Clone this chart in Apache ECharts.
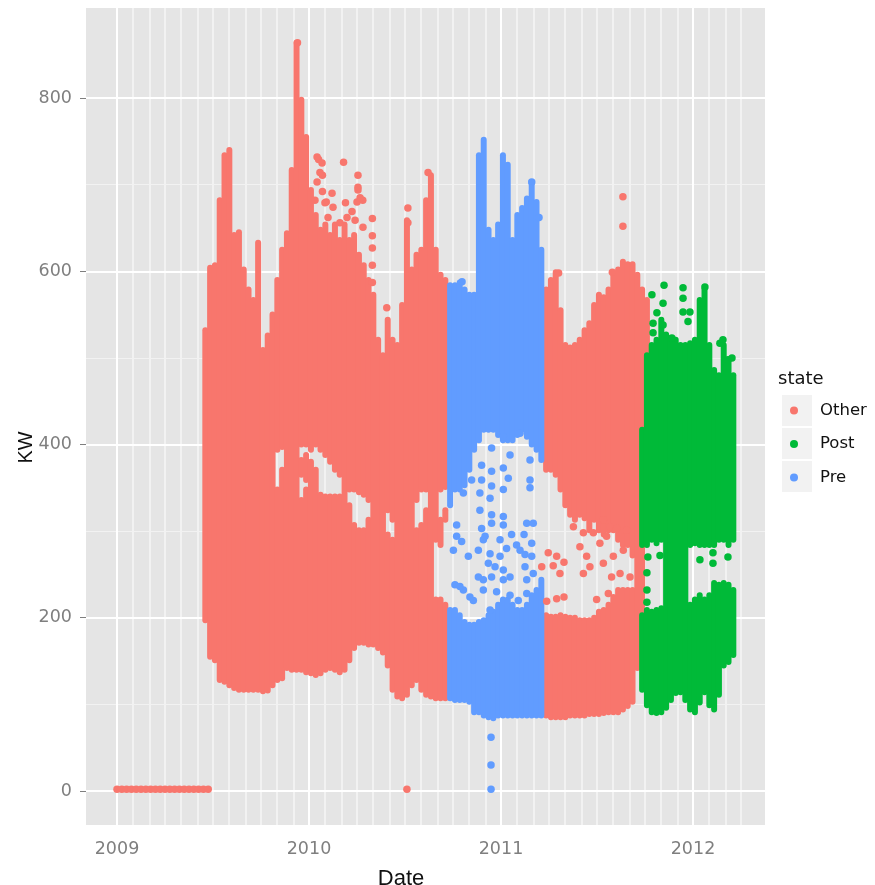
<!DOCTYPE html>
<html>
<head>
<meta charset="utf-8">
<style>html,body{margin:0;padding:0;background:#fff}#c{width:875px;height:885px}</style>
<script src="https://cdn.jsdelivr.net/npm/echarts@6/dist/echarts.min.js"></script>
</head>
<body>
<div id="c"></div>
<script>
// Each row: date, then pairs of KW low/high for the solid parts of that column of dots
const otherBands = [
[2009.46,197,532],[2009.485,155,604],[2009.51,151,607],[2009.535,128,682],[2009.56,126,734],
[2009.585,122,740],[2009.61,119,642],[2009.635,117,645],[2009.66,117,602],[2009.685,117,579],
[2009.71,117,567],[2009.735,117,633],[2009.76,115,509],[2009.785,116,526],[2009.81,122,550],
[2009.835,128,348,394,590],[2009.86,130,371,397,625],[2009.885,142,644],[2009.91,140,717],[2009.935,140,864],
[2009.96,140,336,365,382,400,798],[2009.985,137,348,359,388,400,755],[2010.01,136,380,394,694],
[2010.035,134,371,400,665],[2010.06,136,342,394,648],[2010.085,140,340,388,654],[2010.11,142,340,380,642],
[2010.135,140,340,371,654],[2010.16,137,340,365,636],[2010.185,140,654],[2010.21,151,330,348,636],
[2010.235,165,307,348,642],[2010.26,171,301,345,619],[2010.285,171,301,342,607],[2010.31,169,313,336,590],
[2010.335,169,573],[2010.36,165,521],[2010.385,160,503],[2010.41,145,296,324,544],[2010.435,117,290,313,521],
[2010.46,109,515],[2010.485,107,561],[2010.51,111,659],[2010.535,122,602],[2010.56,128,301,336,619],
[2010.585,117,307,348,625],[2010.61,111,324,348,682],[2010.635,109,711],[2010.66,107,221,290,625],
[2010.685,107,221,284,313,348,596],[2010.71,107,215,313,324,351,590],
[2011.235,87,203,371,579],[2011.26,85,201,371,590],[2011.285,85,201,365,599],[2011.31,85,203,348,555],
[2011.335,85,201,330,515],[2011.36,87,200,319,512],[2011.385,87,200,313,515],[2011.41,87,197,319,521],
[2011.435,87,197,315,532],[2011.46,89,197,301,540],[2011.485,89,200,313,561],[2011.51,89,207,301,573],
[2011.535,90,209,296,570],[2011.56,91,215,301,579],[2011.585,91,224,301,596],[2011.61,91,232,290,602],
[2011.635,94,232,284,611],[2011.66,98,232,284,608],[2011.685,103,232,272,608],[2011.71,142,596],
[2011.735,142,579],[2011.76,417,567]
];
const preBands = [
[2010.735,107,209,330,584],[2010.76,105,209,348,584],[2010.785,105,203,348,587],[2010.81,105,195,353,579],
[2010.835,103,192,371,573],[2010.86,91,192,394,573],[2010.885,91,195,405,734],[2010.91,87,197,417,752],
[2010.935,85,203,417,648],[2010.96,84,207,417,636],[2010.985,87,215,411,654],[2011.01,87,221,405,734],
[2011.035,87,221,405,723],[2011.06,87,215,405,636],[2011.085,87,209,411,665],[2011.11,87,209,417,673],
[2011.135,87,215,409,684],[2011.16,87,226,400,703],[2011.185,87,232,394,680],[2011.21,87,244,382,625]
];
const postBands = [
[2011.735,117,203,284,417],[2011.76,99,209,284,503],[2011.785,91,207,290,515],[2011.81,90,209,286,521],
[2011.835,91,211,290,544],[2011.86,96,527],[2011.885,105,523],[2011.91,113,521],[2011.935,114,515],
[2011.96,105,515],[2011.985,94,215,284,517],[2012.01,91,221,286,521],[2012.035,102,226,284,567],
[2012.06,114,221,284,579],[2012.085,99,226,284,515],[2012.11,94,240,284,486],[2012.135,111,238,290,480],
[2012.16,145,240,290,515],[2012.185,149,238,284,498],[2012.21,157,232,290,480]
];
// Individually visible dots: [date, KW]
const otherPoints = [
[2009.0,2],[2009.025,2],[2009.05,2],[2009.075,2],[2009.1,2],[2009.125,2],[2009.15,2],[2009.175,2],[2009.2,2],[2009.225,2],
[2009.25,2],[2009.275,2],[2009.3,2],[2009.325,2],[2009.35,2],[2009.375,2],[2009.4,2],[2009.425,2],[2009.45,2],[2009.475,2],
[2010.51,2],[2009.94,864],[2010.18,726],[2010.05,729],[2010.07,711],[2010.255,711],[2010.255,694],[2010.33,661],[2010.33,641],
[2010.33,627],[2010.33,607],[2010.33,587],[2010.515,673],[2010.515,656],[2010.405,558],[2010.62,714],[2011.635,686],[2011.635,652],
[2011.58,599],[2011.3,598],[2010.07,692],[2010.12,690],[2010.19,679],[2010.09,680],[2010.25,680],[2010.28,682],
[2010.042,732],[2010.068,725],[2010.057,714],[2010.042,703],[2010.083,679],[2010.125,674],[2010.198,662],[2010.161,656],
[2010.24,659],[2010.281,651],[2010.266,685],[2010.255,697],[2010.224,669],[2010.099,662],[2010.031,682],
[2011.246,275],[2011.29,271],[2011.328,264],[2011.212,259],[2011.272,260],[2011.307,251],[2011.429,251],[2011.377,305],
[2011.238,219],[2011.29,222],[2011.328,224],[2011.498,221],[2011.411,282],[2011.446,271],[2011.481,298],[2011.515,286],
[2011.55,294],[2011.429,298],[2011.533,313],[2011.568,305],[2011.602,303],[2011.654,301],[2011.463,259],[2011.533,263],
[2011.585,271],[2011.62,251],[2011.559,228],[2011.576,247],[2011.637,278],[2011.672,247]
];
const prePoints = [
[2010.948,62],[2010.948,30],[2010.948,2],[2011.16,703],[2011.198,662],[2010.797,588],
[2010.951,396],[2010.951,369],[2011.012,409],[2011.012,373],[2011.047,388],[2011.099,413],[2011.151,382],[2010.899,376],
[2010.899,359],[2010.847,359],[2010.951,352],[2011.012,348],[2011.038,361],[2011.151,359],[2011.151,350],[2010.804,344],
[2010.89,344],[2010.943,338],[2010.89,324],[2010.951,319],[2011.012,317],[2011.012,307],[2010.951,309],[2011.134,309],
[2011.168,309],[2010.769,307],[2010.769,294],[2010.899,303],[2010.908,290],[2010.882,278],[2010.83,271],[2010.752,278],
[2011.055,296],[2011.12,296],[2011.16,286],[2010.995,290],[2011.029,280],[2011.081,284],[2011.125,273],[2010.995,271],
[2011.16,271],[2010.934,263],[2011.012,255],[2011.168,251],[2011.134,244],[2010.76,238],[2010.804,232],[2010.838,224],
[2010.951,247],[2010.977,230],[2011.047,226],[2010.943,209],[2011.09,220],[2011.134,228],[2010.917,294],[2010.943,274],
[2010.969,259],[2011.012,244],[2011.047,247],[2011.099,278],[2011.125,259],[2010.908,244],[2010.882,247],[2010.908,232],
[2010.795,288],[2010.786,236],[2010.856,220]
];
const postPoints = [
[2011.786,573],[2011.849,584],[2011.948,581],[2011.948,569],[2012.062,582],[2012.047,563],[2011.844,563],[2011.812,552],
[2011.948,553],[2011.984,553],[2011.974,542],[2011.844,538],[2011.792,540],[2011.792,529],[2011.89,523],[2012.14,517],
[2012.156,521],[2012.182,498],[2012.203,500],[2012.036,267],[2012.104,275],[2012.104,263],[2012.182,270],[2011.765,270],
[2011.76,252],[2011.76,232],[2011.76,218],[2011.828,272]
];
const xTickLabels = [2009, 2010, 2011, 2012];
const yMajor = [0, 200, 400, 600, 800];
const yMinor = [100, 300, 500, 700];
const stateNames = ['Other', 'Post', 'Pre'];
const stateColors = ['#F8766D', '#00BA38', '#619CFF'];

const xMonths = [];
for (let m = 0; m <= 39; m++) if (m % 12) xMonths.push(2009 + m / 12);

const flatten = rows => {
  const out = [];
  rows.forEach(r => { for (let i = 1; i + 1 < r.length; i += 2) out.push([r[0], r[i], r[i + 1]]); });
  return out;
};
const bandSeries = (name, color, rows) => ({
  name, type: 'custom', z: 3, clip: true, silent: true,
  data: flatten(rows),
  encode: { x: 0, y: [1, 2] },
  renderItem: (params, api) => {
    const top = api.coord([api.value(0), api.value(2)]);
    const bot = api.coord([api.value(0), api.value(1)]);
    const w = api.size([0.025, 0])[0] + 1.2;
    return {
      type: 'rect',
      shape: { x: top[0] - w / 2, y: top[1] - 3, width: w, height: bot[1] - top[1] + 6, r: 3 },
      style: { fill: color }
    };
  }
});
const pointSeries = (name, color, rows) => ({
  name, type: 'scatter', z: 4, symbolSize: 7.5, silent: true,
  itemStyle: { color, opacity: 1 }, data: rows
});
const lines = (axis, vals, color, width) => vals.map(v => ({
  [axis]: v, lineStyle: { color, width, type: 'solid', opacity: 1 }
}));

const chart = echarts.init(document.getElementById('c'), null, { renderer: 'canvas' });
chart.setOption({
  animation: false,
  backgroundColor: '#fff',
  textStyle: { fontFamily: 'Liberation Sans' },
  grid: { left: 86, top: 8, width: 679, height: 817, show: true, backgroundColor: '#E5E5E5', borderWidth: 0, outerBoundsMode: 'none' },
  xAxis: {
    type: 'value', min: 2008.8385, max: 2012.375, name: 'Date', nameLocation: 'middle', nameGap: 43, nameMoveOverlap: false,
    nameTextStyle: { color: '#111', fontSize: 22, padding: [0, 49, 0, 0] },
    axisLine: { show: false }, splitLine: { show: false },
    axisTick: { show: true, length: 6, customValues: xTickLabels, lineStyle: { color: '#7f7f7f', width: 1 } },
    axisLabel: { customValues: xTickLabels, color: '#7f7f7f', fontFamily: 'DejaVu Sans', fontSize: 17.5, margin: 15, formatter: v => String(v) }
  },
  yAxis: {
    type: 'value', min: -39.3, max: 904, name: 'KW', nameLocation: 'middle', nameGap: 50, nameRotate: 90, nameMoveOverlap: false,
    nameTextStyle: { color: '#111', fontSize: 20, padding: [0, 62, 0, 0] },
    axisLine: { show: false }, splitLine: { show: false },
    axisTick: { show: true, length: 6, customValues: yMajor, lineStyle: { color: '#7f7f7f', width: 1 } },
    axisLabel: { customValues: yMajor, color: '#7f7f7f', fontFamily: 'DejaVu Sans', fontSize: 17.5, margin: 14, formatter: v => String(v) }
  },
  legend: {
    orient: 'vertical', left: 790, top: 402, padding: 0, itemWidth: 8, itemHeight: 8, itemGap: 16.5, selectedMode: false,
    textStyle: { color: '#111', fontFamily: 'DejaVu Sans', fontSize: 16.5, padding: [8, 0, 0, 17] },
    data: stateNames.map((n, i) => ({ name: n, icon: 'circle', itemStyle: { color: stateColors[i] } }))
  },
  graphic: { elements: [
    { type: 'text', left: 778, top: 370, style: { text: 'state', fill: '#111', font: '18px "DejaVu Sans"' } },
    { type: 'rect', shape: { x: 782, y: 395, width: 30, height: 31 }, style: { fill: '#F2F2F2' } },
    { type: 'rect', shape: { x: 782, y: 428, width: 30, height: 31 }, style: { fill: '#F2F2F2' } },
    { type: 'rect', shape: { x: 782, y: 461, width: 30, height: 31 }, style: { fill: '#F2F2F2' } }
  ] },
  series: [
    { type: 'scatter', name: 'grid', data: [], silent: true, z: 1,
      markLine: { silent: true, z: 1, symbol: 'none', label: { show: false }, animation: false,
        data: [
          ...lines('xAxis', xMonths, '#F2F2F2', 2),
          ...lines('yAxis', yMinor, '#F2F2F2', 1),
          ...lines('xAxis', xTickLabels, '#FFFFFF', 2),
          ...lines('yAxis', yMajor, '#FFFFFF', 2)
        ] } },
    bandSeries('Other', stateColors[0], otherBands),
    pointSeries('Other', stateColors[0], otherPoints),
    bandSeries('Post', stateColors[1], postBands),
    pointSeries('Post', stateColors[1], postPoints),
    bandSeries('Pre', stateColors[2], preBands),
    pointSeries('Pre', stateColors[2], prePoints)
  ]
});
</script>
</body>
</html>
